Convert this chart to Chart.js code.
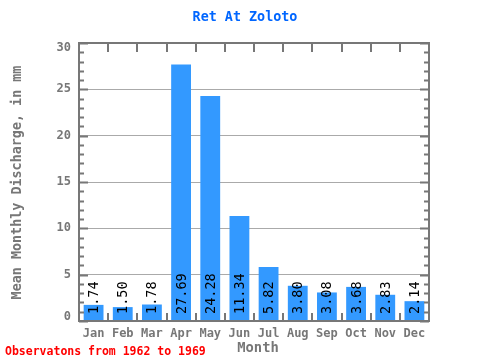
<!DOCTYPE html>
<html><head><meta charset="utf-8">
<script src="https://cdn.jsdelivr.net/npm/chart.js@4/dist/chart.umd.min.js"></script>
<style>html,body{margin:0;padding:0;background:#fff}canvas{display:block}</style>
</head><body>
<canvas id="c" width="480" height="360"></canvas>
<script>
const months = ['Jan','Feb','Mar','Apr','May','Jun','Jul','Aug','Sep','Oct','Nov','Dec'];
const discharge = [1.74,1.50,1.78,27.69,24.28,11.34,5.82,3.80,3.08,3.68,2.83,2.14];
const chartTitle = 'Ret At Zoloto';
const yTitle = 'Mean Monthly Discharge, in mm';
const xTitle = 'Month';
const footnote = 'Observatons from 1962 to 1969';
const yMin = 0, yMax = 30, yMajorStep = 5, yMinorStep = 1;

const FONT = '"DejaVu Sans Mono", "Liberation Mono", monospace';
const GRAY = '#777777';

const decor = {
  id: 'decor',
  afterDraw(chart) {
    const {ctx, chartArea: a, scales} = chart;
    const ys = scales.y, xs = scales.x;
    ctx.save();
    // value labels
    ctx.fillStyle = '#000';
    ctx.font = '13.5px ' + FONT;
    ctx.textAlign = 'left';
    ctx.textBaseline = 'middle';
    const meta = chart.getDatasetMeta(0);
    meta.data.forEach((bar, i) => {
      ctx.save();
      ctx.translate(bar.x + 1, a.bottom - 7);
      ctx.rotate(-Math.PI / 2);
      ctx.fillText(discharge[i].toFixed(2), 0, 0);
      ctx.restore();
    });
    // y tick labels (from the scale's ticks, kept inside the frame at the ends)
    ctx.fillStyle = GRAY;
    ctx.font = 'bold 12px ' + FONT;
    ctx.textAlign = 'right';
    ys.ticks.forEach(t => {
      let y = ys.getPixelForValue(t.value);
      y = Math.min(Math.max(y, a.top + 5), a.bottom - 4);
      ctx.fillText(String(t.value), a.left - 8, y);
    });
    // frame
    ctx.strokeStyle = GRAY;
    ctx.lineWidth = 2;
    ctx.strokeRect(a.left, a.top, a.right - a.left, a.bottom - a.top);
    // y ticks (left & right, inward)
    ctx.beginPath();
    for (let v = yMin; v <= yMax; v += yMinorStep) {
      const y = Math.round(ys.getPixelForValue(v)) + 0.5;
      const len = (v % yMajorStep === 0) ? 9 : 5;
      ctx.moveTo(a.left, y); ctx.lineTo(a.left + len, y);
      ctx.moveTo(a.right, y); ctx.lineTo(a.right - len, y);
    }
    ctx.stroke();
    // x ticks at category boundaries (top & bottom, inward)
    ctx.beginPath();
    for (let i = 1; i < months.length; i++) {
      const x = Math.round((xs.getPixelForValue(i - 1) + xs.getPixelForValue(i)) / 2);
      ctx.moveTo(x, a.top); ctx.lineTo(x, a.top + 9);
      ctx.moveTo(x, a.bottom); ctx.lineTo(x, a.bottom - 8);
    }
    ctx.stroke();
    // titles
    ctx.textAlign = 'center';
    ctx.textBaseline = 'middle';
    ctx.fillStyle = '#0066ff';
    ctx.font = 'bold 13.4px ' + FONT;
    ctx.fillText(chartTitle, 245, 18);
    ctx.fillStyle = GRAY;
    ctx.font = 'bold 13.8px ' + FONT;
    ctx.fillText(xTitle, 258, 348);
    ctx.font = 'bold 13.4px ' + FONT;
    ctx.save();
    ctx.translate(18, 182.5);
    ctx.rotate(-Math.PI / 2);
    ctx.fillText(yTitle, 0, 0);
    ctx.restore();
    ctx.fillStyle = '#ff0000';
    ctx.font = 'bold 11.5px ' + FONT;
    ctx.textAlign = 'left';
    ctx.fillText(footnote, 5, 352);
    ctx.restore();
  }
};

new Chart(document.getElementById('c'), {
  type: 'bar',
  data: {
    labels: months,
    datasets: [{
      data: discharge,
      backgroundColor: '#3399ff',
      borderWidth: 0,
      barPercentage: 0.68,
      categoryPercentage: 1.0
    }]
  },
  options: {
    responsive: false,
    animation: false,
    devicePixelRatio: 1,
    layout: { padding: { top: 43, right: 51, left: 0, bottom: 0 } },
    plugins: { legend: { display: false }, tooltip: { enabled: false }, title: { display: false } },
    scales: {
      x: {
        grid: { display: false, drawTicks: false },
        border: { display: false },
        ticks: { color: GRAY, font: { family: FONT, size: 12, weight: 'bold' }, padding: 6, maxRotation: 0, autoSkip: false },
        afterFit(s) { s.height = 39; }
      },
      y: {
        min: yMin, max: yMax,
        grid: {
          drawTicks: false,
          color: c => (c.tick && c.tick.value > yMin && c.tick.value < yMax) ? '#aaaaaa' : 'rgba(0,0,0,0)',
          lineWidth: 1
        },
        border: { display: false },
        ticks: { stepSize: yMajorStep, display: false },
        afterFit(s) { s.width = 79; }
      }
    }
  },
  plugins: [decor]
});
</script>
</body></html>
